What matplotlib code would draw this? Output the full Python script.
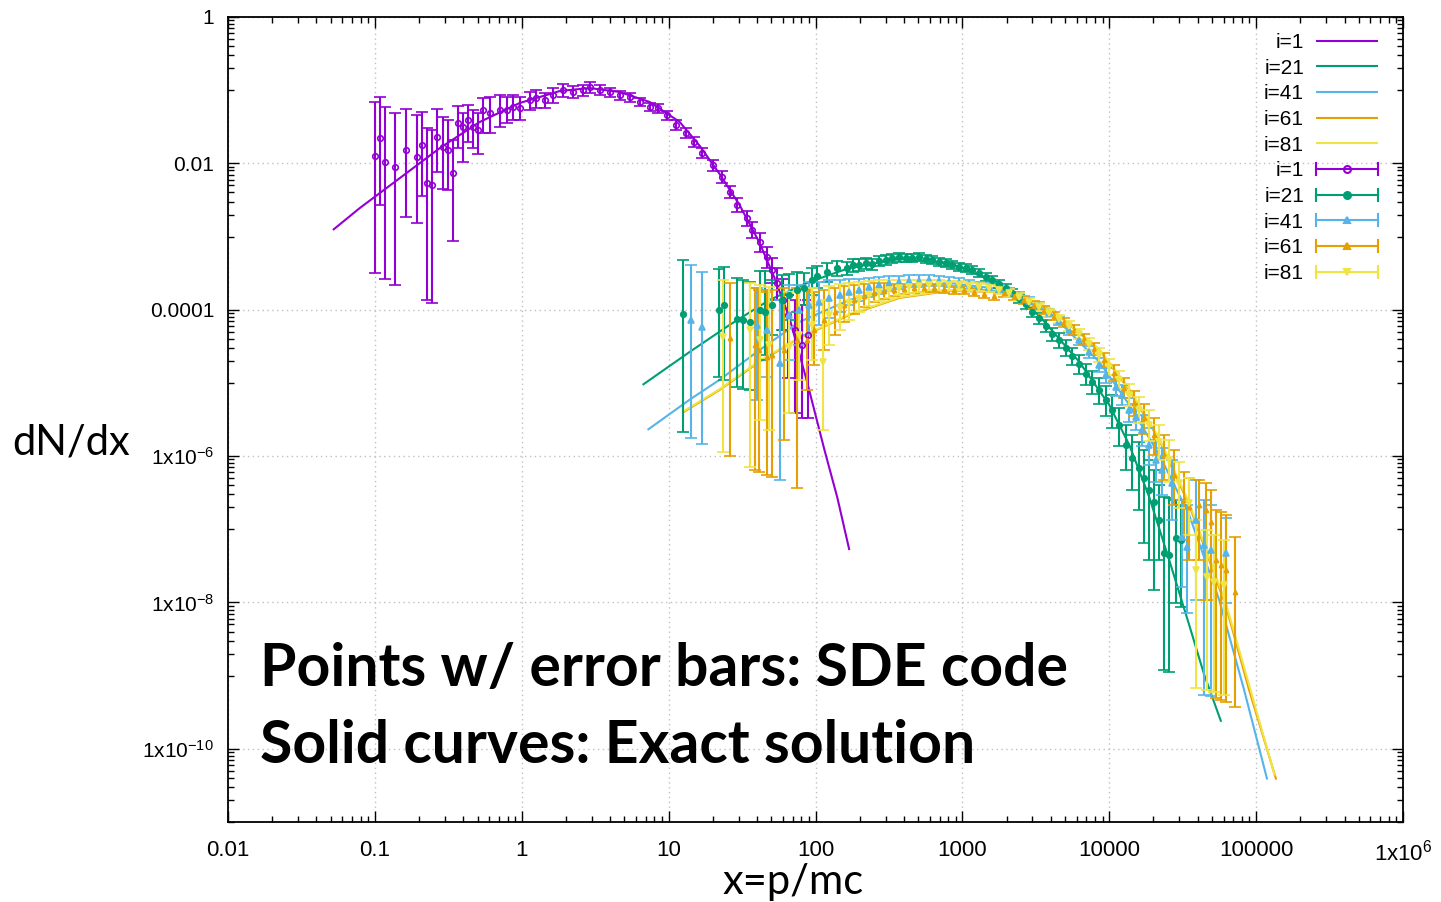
import numpy as np
import matplotlib
matplotlib.use("Agg")
import matplotlib.pyplot as plt
from matplotlib.lines import Line2D
from matplotlib.legend_handler import HandlerBase
from matplotlib.ticker import FixedLocator, FuncFormatter, NullFormatter
from matplotlib.font_manager import FontProperties

plt.rcParams['mathtext.fontset'] = 'custom'
plt.rcParams['mathtext.rm'] = 'Liberation Sans'
plt.rcParams['mathtext.it'] = 'Liberation Sans'
plt.rcParams['font.family'] = ['Liberation Sans', 'DejaVu Sans']

# ---------------- data ----------------
labels = ["i=1", "i=21", "i=41", "i=61", "i=81"]
colors = ["#9400D3", "#009E73", "#56B4E9", "#E69F00", "#F0E442"]

# exact solutions (solid curves)
exact_x_i1 = [0.0518, 0.0791, 0.148, 0.277, 0.518, 0.968, 1.82, 2.90, 4.64, 7.43, 11.9, 16.3, 22.2, 30.4, 41.6, 52.6, 66.5, 86.9, 115, 141, 170]
exact_y_i1 = [1.23e-3, 2.46e-3, 6.3e-3, 1.62e-2, 3.68e-2, 6.68e-2, 9.75e-2, 0.107, 9.45e-2, 6.9e-2, 3.68e-2, 1.73e-2, 7.2e-3, 2.7e-3, 8.2e-4, 2.72e-4, 7.7e-5, 1.10e-5, 1.22e-6, 2.68e-7, 5.2e-8]
exact_x_i21 = [6.65, 13.9, 26.0, 48.6, 91.0, 170, 373, 816, 1786, 3342, 6250, 10000, 13700, 18700, 25600, 35000, 44300, 57800]
exact_y_i21 = [9.4e-6, 2.65e-5, 6.2e-5, 1.36e-4, 2.40e-4, 3.72e-4, 4.94e-4, 4.36e-4, 2.32e-4, 8.23e-5, 1.94e-5, 5.0e-6, 1.42e-6, 2.77e-7, 3.8e-8, 4.94e-9, 1.03e-9, 2.34e-10]
exact_x_i41 = [7.19, 13.9, 22.2, 41.6, 77.8, 170, 373, 816, 1786, 3908, 8550, 13700, 21900, 35000, 56000, 82800, 119000]
exact_y_i41 = [2.28e-6, 5.9e-6, 1.10e-5, 2.82e-5, 6.81e-5, 1.36e-4, 2.05e-4, 2.32e-4, 1.92e-4, 9.33e-5, 1.94e-5, 5.0e-6, 1.04e-6, 1.57e-7, 1.09e-8, 6.4e-10, 3.8e-11]
exact_x_i61 = [12.4, 22.2, 41.6, 77.8, 170, 373, 816, 1786, 3908, 8550, 13700, 21900, 35000, 62500, 89500, 137000]
exact_y_i61 = [3.9e-6, 8.0e-6, 1.94e-5, 4.12e-5, 8.49e-5, 1.45e-4, 1.81e-4, 1.75e-4, 1.06e-4, 2.82e-5, 8.0e-6, 1.66e-6, 2.15e-7, 8.7e-9, 6.4e-10, 3.8e-11]
exact_x_i81 = [12.4, 22.2, 41.6, 77.8, 170, 373, 816, 1786, 3908, 8550, 13700, 21900, 35000, 62500, 89500, 134000]
exact_y_i81 = [4.0e-6, 8.2e-6, 2.0e-5, 4.2e-5, 8.7e-5, 1.48e-4, 1.84e-4, 1.78e-4, 1.08e-4, 2.9e-5, 8.3e-6, 1.75e-6, 2.3e-7, 9.5e-9, 7.5e-10, 4.3e-11]

# SDE code results (points with error bars): x, y, lower, upper
sde_x_i1 = [0.100, 0.108, 0.117, 0.137, 0.163, 0.193, 0.209, 0.226, 0.244, 0.264, 0.290, 0.314, 0.340, 0.367, 0.397, 0.430, 0.465, 0.502, 0.543, 0.605, 0.708, 0.791, 0.869, 0.968, 1.13, 1.26, 1.43, 1.63, 1.90, 2.22, 2.60, 2.90, 3.40, 3.97, 4.64, 5.43, 6.35, 7.43, 8.41, 9.68, 11.3, 13.2, 15.0, 17.0, 19.9, 23.0, 26.0, 29.4, 34.0, 37.2, 41.6, 46.4, 50.2, 54.3, 59.7, 64.6, 72.0, 80.3, 88.3]
sde_y_i1 = [1.26e-2, 2.2e-2, 1.04e-2, 8.9e-3, 1.52e-2, 1.22e-2, 1.78e-2, 5.4e-3, 5.1e-3, 2.29e-2, 1.68e-2, 1.52e-2, 7.4e-3, 3.57e-2, 3.14e-2, 3.92e-2, 3.14e-2, 2.86e-2, 5.4e-2, 4.9e-2, 5.4e-2, 5.4e-2, 5.9e-2, 5.7e-2, 7.35e-2, 7.8e-2, 7.35e-2, 8.6e-2, 0.101, 9.45e-2, 0.101, 0.111, 0.101, 9.45e-2, 8.6e-2, 8.1e-2, 6.9e-2, 5.9e-2, 5.7e-2, 4.6e-2, 3.35e-2, 2.6e-2, 1.96e-2, 1.39e-2, 9.5e-3, 6.5e-3, 4.1e-3, 2.7e-3, 1.8e-3, 1.23e-3, 8.4e-4, 5.3e-4, 3.5e-4, 2.3e-4, 1.36e-4, 8.5e-5, 5.3e-5, 3.3e-5, 4.5e-5]
sde_lo_i1 = [3.2e-4, 2.7e-3, 2.6e-4, 2.2e-4, 1.85e-3, 1.53e-3, 3.6e-3, 1.36e-4, 1.24e-4, 7.6e-3, 4.5e-3, 4.3e-3, 8.7e-4, 1.62e-2, 1.04e-2, 1.96e-2, 1.62e-2, 1.34e-2, 2.6e-2, 2.6e-2, 3.14e-2, 3.57e-2, 3.92e-2, 3.92e-2, 5.4e-2, 5.7e-2, 5.7e-2, 6.7e-2, 8.1e-2, 7.8e-2, 8.3e-2, 9.2e-2, 8.6e-2, 8.1e-2, 7.35e-2, 6.9e-2, 6.1e-2, 5.2e-2, 4.9e-2, 3.9e-2, 2.86e-2, 2.2e-2, 1.68e-2, 1.19e-2, 7.9e-3, 5.4e-3, 3.4e-3, 2.17e-3, 1.4e-3, 9.6e-4, 6.2e-4, 3.7e-4, 2.3e-4, 1.36e-4, 5.3e-5, 1.17e-5, 3.9e-6, 3.3e-6, 3.3e-6]
sde_hi_i1 = [6.9e-2, 8.1e-2, 5.9e-2, 4.9e-2, 5.5e-2, 4.6e-2, 5.0e-2, 3.05e-2, 2.86e-2, 5.5e-2, 4.3e-2, 3.9e-2, 2.1e-2, 6.1e-2, 4.9e-2, 6.3e-2, 5.4e-2, 4.9e-2, 7.8e-2, 8.1e-2, 8.6e-2, 8.1e-2, 8.6e-2, 8.1e-2, 9.45e-2, 0.101, 9.2e-2, 0.107, 0.122, 0.114, 0.118, 0.129, 0.118, 0.107, 9.75e-2, 9.2e-2, 7.8e-2, 6.7e-2, 6.5e-2, 5.2e-2, 3.9e-2, 3.05e-2, 2.29e-2, 1.62e-2, 1.11e-2, 7.9e-3, 4.9e-3, 3.4e-3, 2.24e-3, 1.58e-3, 1.12e-3, 7.2e-4, 5.1e-4, 3.7e-4, 2.6e-4, 1.6e-4, 1.36e-4, 1.16e-4, 1.36e-4]

sde_x_i21 = [12.6, 21.9, 24.0, 29.4, 31.9, 35.6, 41.6, 45.0, 50.9, 58.7, 66.5, 74.3, 84.1, 94.0, 103, 119, 139, 163, 179, 199, 222, 244, 272, 304, 334, 373, 416, 457, 510, 569, 625, 698, 778, 855, 955, 1065, 1170, 1306, 1456, 1600, 1786, 1991, 2188, 2443, 2723, 2992, 3342, 3724, 4093, 4571, 5093, 5598, 6250, 6980, 7660, 8550, 9550, 10500, 11700, 13100, 14300, 16000, 17300, 18700, 20200, 21900, 23700, 25600, 28600, 30900]
sde_y_i21 = [8.76e-5, 9.94e-5, 1.16e-4, 7.49e-5, 7.26e-5, 6.81e-5, 9.94e-5, 9.33e-5, 1.16e-4, 1.36e-4, 1.59e-4, 1.86e-4, 1.99e-4, 2.55e-4, 2.90e-4, 3.28e-4, 3.72e-4, 3.72e-4, 4.09e-4, 4.09e-4, 4.36e-4, 4.22e-4, 4.64e-4, 4.79e-4, 5.10e-4, 5.26e-4, 5.10e-4, 5.10e-4, 5.26e-4, 4.94e-4, 4.79e-4, 4.50e-4, 4.36e-4, 4.09e-4, 3.84e-4, 3.72e-4, 3.50e-4, 3.18e-4, 2.81e-4, 2.55e-4, 2.25e-4, 1.99e-4, 1.70e-4, 1.45e-4, 1.20e-4, 9.33e-5, 7.73e-5, 6.01e-5, 4.67e-5, 3.87e-5, 3.01e-5, 2.34e-5, 1.82e-5, 1.33e-5, 1.03e-5, 8.0e-6, 5.9e-6, 4.3e-6, 2.67e-6, 1.42e-6, 9.4e-7, 6.9e-7, 5.0e-7, 3.45e-7, 2.37e-7, 1.34e-7, 4.8e-8, 4.5e-8, 7.6e-8, 7.2e-8]
sde_lo_i21 = [2.14e-6, 1.21e-5, 1.10e-5, 8.8e-6, 8.3e-6, 8.0e-6, 2.06e-5, 2.41e-5, 4.53e-5, 5.30e-5, 7.26e-5, 9.33e-5, 1.16e-4, 1.59e-4, 1.99e-4, 2.40e-4, 2.90e-4, 2.99e-4, 3.28e-4, 3.39e-4, 3.61e-4, 3.50e-4, 3.97e-4, 4.09e-4, 4.36e-4, 4.50e-4, 4.50e-4, 4.50e-4, 4.64e-4, 4.36e-4, 4.22e-4, 3.97e-4, 3.84e-4, 3.61e-4, 3.39e-4, 3.28e-4, 3.08e-4, 2.81e-4, 2.47e-4, 2.25e-4, 1.99e-4, 1.75e-4, 1.50e-4, 1.24e-4, 1.03e-4, 7.97e-5, 6.40e-5, 4.97e-5, 3.75e-5, 3.01e-5, 2.34e-5, 1.76e-5, 1.33e-5, 9.4e-6, 7.1e-6, 5.2e-6, 3.54e-6, 2.43e-6, 1.38e-6, 6.5e-7, 3.45e-7, 1.84e-7, 6.5e-8, 3.8e-8, 1.49e-8, 3.8e-8, 1.20e-9, 1.13e-9, 9.9e-9, 8.7e-9]
sde_hi_i21 = [4.79e-4, 3.61e-4, 3.84e-4, 2.72e-4, 2.55e-4, 2.40e-4, 3.39e-4, 3.39e-4, 2.55e-4, 2.99e-4, 3.08e-4, 3.28e-4, 3.18e-4, 3.72e-4, 3.97e-4, 4.36e-4, 4.64e-4, 4.50e-4, 4.94e-4, 4.94e-4, 5.10e-4, 4.94e-4, 5.43e-4, 5.61e-4, 5.78e-4, 5.97e-4, 5.78e-4, 5.78e-4, 5.97e-4, 5.61e-4, 5.43e-4, 5.10e-4, 4.94e-4, 4.64e-4, 4.36e-4, 4.22e-4, 3.97e-4, 3.61e-4, 3.18e-4, 2.90e-4, 2.55e-4, 2.25e-4, 1.92e-4, 1.64e-4, 1.41e-4, 1.09e-4, 9.04e-5, 7.26e-5, 5.64e-5, 4.82e-5, 3.87e-5, 3.01e-5, 2.41e-5, 1.82e-5, 1.46e-5, 1.17e-5, 9.1e-6, 6.9e-6, 4.6e-6, 2.67e-6, 1.95e-6, 1.56e-6, 1.22e-6, 8.9e-7, 6.5e-7, 4.0e-7, 2.77e-7, 2.69e-7, 2.52e-7, 2.15e-7]

sde_x_i41 = [14.3, 17.0, 39.7, 46.4, 56.9, 66.5, 77.8, 91.0, 106, 124, 146, 170, 199, 233, 272, 318, 373, 436, 510, 597, 698, 816, 955, 1117, 1306, 1528, 1786, 2089, 2443, 2858, 3342, 3908, 4571, 5346, 6250, 7311, 8550, 9550, 11170, 12250, 13700, 15280, 16750, 18700, 20890, 22950, 26850, 31400, 33950, 39100, 44300, 49400, 62500]
sde_y_i41 = [7.26e-5, 5.82e-5, 6.2e-5, 5.3e-5, 1.88e-5, 8.49e-5, 9.94e-5, 1.16e-4, 1.28e-4, 1.45e-4, 1.59e-4, 1.75e-4, 1.86e-4, 2.05e-4, 2.18e-4, 2.32e-4, 2.40e-4, 2.47e-4, 2.47e-4, 2.55e-4, 2.47e-4, 2.40e-4, 2.32e-4, 2.25e-4, 2.11e-4, 2.05e-4, 1.92e-4, 1.75e-4, 1.54e-4, 1.32e-4, 1.13e-4, 9.04e-5, 7.03e-5, 5.30e-5, 3.87e-5, 2.65e-5, 1.76e-5, 1.29e-5, 8.8e-6, 6.9e-6, 4.3e-6, 3.43e-6, 2.28e-6, 1.42e-6, 8.9e-7, 6.5e-7, 4.3e-7, 7.9e-8, 5.75e-8, 1.34e-7, 6.1e-8, 5.2e-8, 4.8e-8]
sde_lo_i41 = [1.77e-6, 1.47e-6, 5.9e-6, 1.21e-5, 4.7e-7, 2.06e-5, 3.30e-5, 4.53e-5, 6.2e-5, 7.73e-5, 9.33e-5, 1.16e-4, 1.32e-4, 1.50e-4, 1.64e-4, 1.81e-4, 1.92e-4, 2.05e-4, 2.05e-4, 2.11e-4, 2.11e-4, 2.05e-4, 1.99e-4, 1.92e-4, 1.86e-4, 1.81e-4, 1.70e-4, 1.54e-4, 1.36e-4, 1.16e-4, 9.94e-5, 7.97e-5, 6.2e-5, 4.53e-5, 3.30e-5, 2.2e-5, 1.41e-5, 1.0e-5, 6.6e-6, 5.0e-6, 2.93e-6, 2.28e-6, 1.38e-6, 7.6e-7, 4.4e-7, 2.95e-7, 1.34e-7, 1.63e-8, 7.2e-9, 1.09e-8, 5.5e-10, 5.2e-10, 9.9e-9]
sde_hi_i41 = [4.09e-4, 3.28e-4, 1.99e-4, 1.86e-4, 1.36e-4, 2.18e-4, 2.18e-4, 2.40e-4, 2.40e-4, 2.55e-4, 2.55e-4, 2.64e-4, 2.64e-4, 2.72e-4, 2.81e-4, 2.90e-4, 2.90e-4, 2.99e-4, 2.99e-4, 2.99e-4, 2.90e-4, 2.81e-4, 2.72e-4, 2.55e-4, 2.40e-4, 2.32e-4, 2.18e-4, 1.99e-4, 1.75e-4, 1.50e-4, 1.28e-4, 1.03e-4, 7.97e-5, 6.2e-5, 4.53e-5, 3.2e-5, 2.2e-5, 1.60e-5, 1.13e-5, 9.4e-6, 6.2e-6, 5.2e-6, 3.66e-6, 2.43e-6, 1.66e-6, 1.29e-6, 8.9e-7, 2.52e-7, 2.15e-7, 4.7e-7, 2.52e-7, 2.15e-7, 1.43e-7]

sde_x_i61 = [26.0, 38.5, 41.0, 46.4, 50.9, 61.5, 74.3, 86.9, 98.4, 115, 135, 157, 184, 215, 252, 294, 344, 403, 471, 551, 645, 755, 883, 1033, 1208, 1413, 1652, 1932, 2259, 2642, 3090, 3614, 4227, 4943, 5781, 6761, 7907, 9247, 10800, 12650, 14790, 17300, 20200, 23700, 27700, 32400, 35000, 40900, 45700, 49400, 53500, 57800, 62500, 71900]
sde_y_i61 = [4.12e-5, 3.30e-5, 2.82e-5, 2.27e-5, 2.41e-5, 2.82e-5, 3.87e-5, 3.87e-5, 5.30e-5, 7.26e-5, 9.33e-5, 1.16e-4, 1.36e-4, 1.54e-4, 1.70e-4, 1.81e-4, 1.86e-4, 1.92e-4, 1.99e-4, 1.99e-4, 1.99e-4, 1.92e-4, 1.86e-4, 1.86e-4, 1.75e-4, 1.64e-4, 1.54e-4, 1.70e-4, 1.54e-4, 1.36e-4, 1.16e-4, 9.94e-5, 8.23e-5, 6.81e-5, 5.30e-5, 3.99e-5, 2.91e-5, 2.06e-5, 1.37e-5, 8.55e-6, 5.33e-6, 3.33e-6, 1.95e-6, 1.04e-6, 5.5e-7, 2.52e-7, 2.02e-7, 2.15e-7, 1.84e-7, 1.26e-7, 3.8e-8, 3.27e-8, 2.8e-8, 1.40e-8]
sde_lo_i61 = [1.0e-6, 6.5e-7, 6.1e-7, 5.5e-7, 5.2e-7, 1.66e-6, 3.7e-7, 8.0e-6, 1.76e-5, 2.82e-5, 4.53e-5, 6.81e-5, 8.76e-5, 1.09e-4, 1.28e-4, 1.41e-4, 1.54e-4, 1.64e-4, 1.70e-4, 1.75e-4, 1.75e-4, 1.70e-4, 1.64e-4, 1.64e-4, 1.54e-4, 1.45e-4, 1.36e-4, 1.50e-4, 1.36e-4, 1.20e-4, 1.03e-4, 8.76e-5, 7.26e-5, 5.82e-5, 4.53e-5, 3.41e-5, 2.41e-5, 1.66e-5, 1.06e-5, 6.2e-6, 3.54e-6, 2.0e-6, 1.04e-6, 4.7e-7, 2.15e-7, 7.2e-8, 3.8e-8, 3.8e-8, 1.09e-8, 1.09e-8, 5.0e-10, 4.7e-10, 4.4e-10, 3.75e-10]
sde_hi_i61 = [2.32e-4, 1.99e-4, 1.86e-4, 1.75e-4, 1.86e-4, 1.99e-4, 1.99e-4, 1.86e-4, 1.75e-4, 1.86e-4, 1.99e-4, 2.11e-4, 2.18e-4, 2.25e-4, 2.32e-4, 2.32e-4, 2.25e-4, 2.25e-4, 2.25e-4, 2.25e-4, 2.25e-4, 2.18e-4, 2.11e-4, 2.11e-4, 1.99e-4, 1.86e-4, 1.75e-4, 1.92e-4, 1.75e-4, 1.54e-4, 1.32e-4, 1.13e-4, 9.33e-5, 7.73e-5, 6.2e-5, 4.67e-5, 3.52e-5, 2.57e-5, 1.76e-5, 1.17e-5, 7.8e-6, 5.2e-6, 3.33e-6, 1.95e-6, 1.22e-6, 6.1e-7, 5.0e-7, 4.7e-7, 4.3e-7, 3.45e-7, 1.84e-7, 1.73e-7, 1.57e-7, 7.9e-8]

sde_x_i81 = [23.3, 35.6, 41.6, 48.6, 66.5, 77.8, 94.0, 112, 124, 146, 170, 199, 233, 272, 318, 373, 436, 510, 597, 698, 816, 955, 1117, 1306, 1528, 1786, 2089, 2443, 2858, 3342, 3908, 4571, 5346, 6250, 7311, 8550, 10000, 11700, 13700, 16000, 18700, 21900, 25600, 29900, 35000, 39100, 46400, 51800, 60600]
sde_y_i81 = [4.25e-5, 5.30e-5, 3.87e-5, 3.30e-5, 3.10e-5, 4.53e-5, 6.2e-5, 1.94e-5, 8.49e-5, 1.06e-4, 1.24e-4, 1.41e-4, 1.59e-4, 1.75e-4, 1.86e-4, 1.99e-4, 2.05e-4, 2.11e-4, 2.18e-4, 2.18e-4, 2.18e-4, 2.18e-4, 2.11e-4, 2.05e-4, 1.99e-4, 1.86e-4, 1.70e-4, 1.50e-4, 1.28e-4, 1.09e-4, 9.04e-5, 7.49e-5, 6.01e-5, 4.67e-5, 3.41e-5, 2.41e-5, 1.66e-5, 1.10e-5, 6.9e-6, 4.3e-6, 2.67e-6, 1.56e-6, 8.9e-7, 4.3e-7, 2.3e-7, 2.8e-8, 2.24e-8, 1.91e-8, 1.74e-8]
sde_lo_i81 = [1.14e-6, 7.1e-7, 3.13e-6, 2.28e-6, 3.9e-6, 1.10e-5, 2.06e-5, 2.28e-6, 3.30e-5, 5.30e-5, 7.26e-5, 9.33e-5, 1.13e-4, 1.32e-4, 1.45e-4, 1.59e-4, 1.70e-4, 1.75e-4, 1.86e-4, 1.86e-4, 1.86e-4, 1.92e-4, 1.86e-4, 1.81e-4, 1.75e-4, 1.64e-4, 1.50e-4, 1.32e-4, 1.13e-4, 9.63e-5, 7.97e-5, 6.6e-5, 5.13e-5, 3.99e-5, 2.82e-5, 1.94e-5, 1.29e-5, 8.3e-6, 4.85e-6, 2.84e-6, 1.61e-6, 8.9e-7, 4.4e-7, 1.96e-7, 8.4e-8, 6.8e-10, 6.4e-10, 6.0e-10, 5.5e-10]
sde_hi_i81 = [2.55e-4, 2.32e-4, 2.18e-4, 2.05e-4, 1.75e-4, 1.86e-4, 1.99e-4, 1.36e-4, 2.11e-4, 2.25e-4, 2.32e-4, 2.40e-4, 2.47e-4, 2.55e-4, 2.55e-4, 2.55e-4, 2.55e-4, 2.55e-4, 2.55e-4, 2.55e-4, 2.47e-4, 2.47e-4, 2.40e-4, 2.32e-4, 2.25e-4, 2.11e-4, 1.92e-4, 1.70e-4, 1.45e-4, 1.24e-4, 1.03e-4, 8.49e-5, 7.03e-5, 5.47e-5, 4.12e-5, 3.01e-5, 2.13e-5, 1.46e-5, 9.7e-6, 6.4e-6, 4.3e-6, 2.67e-6, 1.66e-6, 8.3e-7, 5.0e-7, 1.34e-7, 9.8e-8, 8.4e-8, 7.2e-8]

x_tick_exps = [-2, -1, 0, 1, 2, 3, 4, 5, 6]
y_tick_exps = [-10, -8, -6, -4, -2, 0]

# ---------------- figure ----------------
fig = plt.figure(figsize=(14.41, 9.02), dpi=100)
ax = fig.add_axes([228/1441, 1-822/902, 1175/1441, 805/902])
ax.set_xscale('log')
ax.set_yscale('log')
ax.set_xlim(1e-2, 1e6)
ax.set_ylim(1e-11, 1)

exact_x = [exact_x_i1, exact_x_i21, exact_x_i41, exact_x_i61, exact_x_i81]
exact_y = [exact_y_i1, exact_y_i21, exact_y_i41, exact_y_i61, exact_y_i81]
sde_x = [sde_x_i1, sde_x_i21, sde_x_i41, sde_x_i61, sde_x_i81]
sde_y = [sde_y_i1, sde_y_i21, sde_y_i41, sde_y_i61, sde_y_i81]
sde_lo = [sde_lo_i1, sde_lo_i21, sde_lo_i41, sde_lo_i61, sde_lo_i81]
sde_hi = [sde_hi_i1, sde_hi_i21, sde_hi_i41, sde_hi_i61, sde_hi_i81]
markers = ['o', 'o', '^', '^', 'v']
mfcs = ['none', None, None, None, None]
msizes = [4, 4, 4, 3, 4]

line_handles = []
for xs, ys, c in zip(exact_x, exact_y, colors):
    ln, = ax.plot(xs, ys, color=c, lw=1.5, zorder=3, solid_capstyle='butt')
    line_handles.append(ln)

proxies = []
for xs, ys, lo, hi, c, m, mf, ms in zip(sde_x, sde_y, sde_lo, sde_hi, colors, markers, mfcs, msizes):
    y = np.array(ys)
    err = [np.clip(y - np.array(lo), 0, None), np.clip(np.array(hi) - y, 0, None)]
    ax.errorbar(xs, ys, yerr=err, fmt=m, color=c, ms=ms,
                mfc=(c if mf is None else mf), mec=c, mew=1.2,
                elinewidth=1.5, capsize=4.5, capthick=1.6, zorder=4)
    proxies.append(Line2D([], [], color=c, marker=m, ms=ms + 1,
                          mfc=(c if mf is None else mf), lw=1.5))


class GnuErrHandler(HandlerBase):
    def create_artists(self, legend, orig, xd, yd, w, h, fs, trans):
        yc = 0.5 * h - yd
        x0, x1 = -xd, -xd + w
        c = orig.get_color()
        cap = 0.42 * h
        arts = [Line2D([x0, x1], [yc, yc], color=c, lw=1.5),
                Line2D([x0, x0], [yc - cap, yc + cap], color=c, lw=1.5),
                Line2D([x1, x1], [yc - cap, yc + cap], color=c, lw=1.5),
                Line2D([(x0 + x1) / 2], [yc], ls='none', marker=orig.get_marker(),
                       ms=orig.get_markersize(), mfc=orig.get_markerfacecolor(),
                       mec=c, mew=1.5)]
        for a in arts:
            a.set_transform(trans)
        return arts


leg = ax.legend(handles=line_handles + proxies, labels=labels + labels,
                loc='upper right', bbox_to_anchor=((1378 - 228) / 1175, (822 - 33) / 805),
                frameon=False, markerfirst=False, handlelength=3.0,
                handletextpad=0.55, labelspacing=0.32, borderpad=0, borderaxespad=0,
                prop=FontProperties(family='Liberation Sans', size=15),
                handler_map={p: GnuErrHandler() for p in proxies})
for col in leg._legend_handle_box.get_children():
    col.align = 'right'

# ticks
def xfmt(v, pos):
    e = int(round(np.log10(v)))
    if e < 0:
        return f"{10.0**e:.{-e}f}"
    if e <= 5:
        return str(10**e)
    return r'1x10$^{%d}$' % e

def yfmt(v, pos):
    e = int(round(np.log10(v)))
    if e >= -4:
        return f"{10.0**e:.{-e}f}" if e < 0 else "1"
    return r'1x10$^{%d}$' % e

ax.xaxis.set_major_locator(FixedLocator([10.0**e for e in x_tick_exps]))
ax.xaxis.set_minor_locator(FixedLocator([m * 10.0**e for e in range(-2, 6) for m in range(2, 10)]))
ax.yaxis.set_major_locator(FixedLocator([10.0**e for e in y_tick_exps]))
ax.yaxis.set_minor_locator(FixedLocator([m * 10.0**e for e in range(-11, 0, 2) for m in range(1, 10)]))
ax.xaxis.set_major_formatter(FuncFormatter(xfmt))
ax.yaxis.set_major_formatter(FuncFormatter(yfmt))
ax.xaxis.set_minor_formatter(NullFormatter())
ax.yaxis.set_minor_formatter(NullFormatter())

ax.tick_params(which='both', direction='in', top=True, right=True, width=1.0, colors='black')
ax.tick_params(which='major', length=8)
ax.tick_params(which='minor', length=4.5)
ax.tick_params(axis='y', which='major', pad=10, labelsize=15)
ax.tick_params(axis='x', which='major', pad=13, labelsize=16)
for s in ax.spines.values():
    s.set_linewidth(1.3)

ax.grid(True, which='major', ls=(0, (1, 2.5)), color='#c0c0c0', lw=1.0, zorder=0)
ax.set_axisbelow(True)

fig.text(12 / 1441, 1 - 455 / 902, 'dN/dx', fontsize=30, family=['Lato', 'DejaVu Sans'],
         ha='left', va='baseline')
fig.text(793 / 1441, 1 - 894 / 902, 'x=p/mc', fontsize=30, family=['Lato', 'DejaVu Sans'],
         ha='center', va='baseline')

fig.text(260 / 1441, 1 - 686 / 902, 'Points w/ error bars: SDE code', fontsize=42.4,
         fontweight='bold', family=['Lato', 'DejaVu Sans'], ha='left', va='baseline', zorder=10)
fig.text(260 / 1441, 1 - 763 / 902, 'Solid curves: Exact solution', fontsize=42.4,
         fontweight='bold', family=['Lato', 'DejaVu Sans'], ha='left', va='baseline', zorder=10)

fig.savefig('out.png', dpi=100)
